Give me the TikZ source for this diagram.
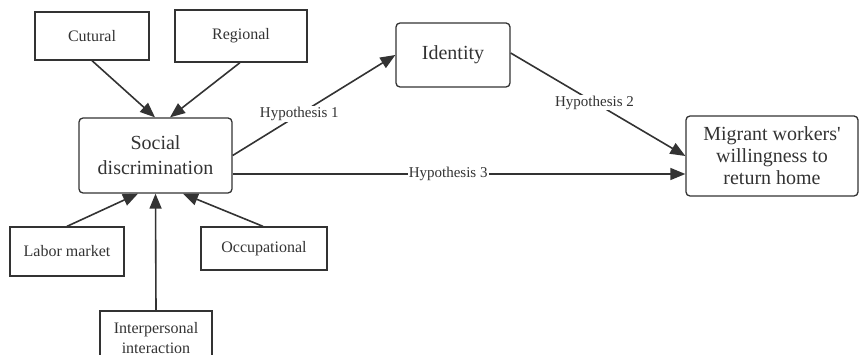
\documentclass[tikz,border=0pt]{standalone}
\usepackage{fontspec}
\setmainfont{Liberation Serif}
\usetikzlibrary{arrows.meta}
\definecolor{ink}{HTML}{333333}
\tikzset{
  factor/.style={draw=ink,line width=1.3pt,text=ink,align=center,inner sep=0pt,
    font=\fontsize{16}{20}\selectfont},
  keynode/.style={factor,rounded corners=4pt,font=\fontsize{20}{25}\selectfont},
  link/.style={draw=ink,line width=1.6pt,-{Triangle[length=15pt,width=12pt]}},
  hyp/.style={fill=white,text=ink,inner sep=1pt,font=\fontsize{15}{18}\selectfont}
}
\newcommand{\factorbox}[4][]{%
 \node[factor,#1] ({#2}) at ({#3}) {#4};%
}
\newcommand{\keybox}[4][]{%
 \node[keynode,#1] ({#2}) at ({#3}) {#4};%
}
\begin{document}
\begin{tikzpicture}[x=1pt,y=-1pt]
  \useasboundingbox (0,0) rectangle (860,355);
  % influencing factors
  \factorbox[minimum width=114pt,minimum height=48pt]{cut}{92,36}{Cutural};
  \factorbox[minimum width=132pt,minimum height=52pt]{reg}{241,36}{Regional};
  \factorbox[minimum width=114pt,minimum height=49pt]{lab}{67,251.5}{Labor market};
  \factorbox[minimum width=126pt,minimum height=43pt]{occ}{264,248.5}{Occupational};
  \factorbox[minimum width=112pt,minimum height=54pt]{inter}{156,338}{Interpersonal\\interaction};
  % main variables
  \keybox[minimum width=153pt,minimum height=75pt]{soc}{155.5,155.5}{Social\\discrimination};
  \keybox[minimum width=114pt,minimum height=64pt]{ident}{453,55}{Identity};
  \keybox[minimum width=172pt,minimum height=80pt,font=\fontsize{20}{22}\selectfont]{mig}{772,156}{Migrant workers\textquotesingle\\willingness to\\return home};
  \draw[link] (cut.south) -- ([xshift=-0.5pt]soc.north);
  \draw[link] ([xshift=-1pt]reg.south) -- ([xshift=14.5pt]soc.north);
  \draw[link] (lab.north) -- ([xshift=-17.5pt]soc.south);
  \draw[link] (inter.north) -- (soc.south);
  \draw[link] ([xshift=-1pt]occ.north) -- ([xshift=27.5pt]soc.south);
  % hypotheses
  \draw[link] (soc.east) -- node[hyp,pos=0.41] {Hypothesis 1} (ident.west);
  \draw[link] ([yshift=2pt]ident.east) -- node[hyp,pos=0.48] {Hypothesis 2} (mig.west);
  \draw[link] ([yshift=-18.5pt]soc.east) -- node[hyp,pos=0.476] {Hypothesis 3} ([yshift=-18pt]mig.west);
\end{tikzpicture}
\end{document}
